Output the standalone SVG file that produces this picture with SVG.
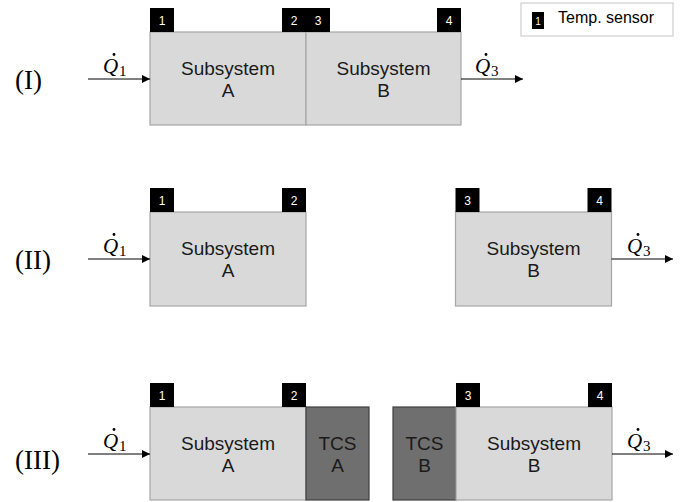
<svg xmlns="http://www.w3.org/2000/svg" width="684" height="502" viewBox="0 0 684 502">
  <defs>
    <marker id="arrow" viewBox="0 0 10 10" refX="10" refY="5" markerWidth="8" markerHeight="8" markerUnits="userSpaceOnUse" orient="auto">
      <path d="M0,0 L10,5 L0,10 Z" fill="#000"/>
    </marker>
    <style>
      .sub { fill: #d9d9d9; stroke: #a6a6a6; stroke-width: 1.2; }
      .tcs { fill: #6f6f6f; stroke: #3f3f3f; stroke-width: 1.2; }
      .sensor { fill: #000; }
      .snum { font-family: "Liberation Sans", Arial, sans-serif; font-size: 12px; fill: #fff; text-anchor: middle; }
      .lbl { font-family: "Liberation Sans", Arial, sans-serif; font-size: 19px; fill: #1a1a1a; text-anchor: middle; }
      .roman { font-family: "Liberation Serif", "Times New Roman", serif; font-size: 27px; fill: #000; }
      .q { font-family: "Liberation Serif", "Times New Roman", serif; font-size: 21px; font-style: italic; fill: #000; }
      .qdot { fill: #000; }
      .qsub { font-family: "Liberation Serif", "Times New Roman", serif; font-size: 15px; fill: #000; }
      .flow { stroke: #000; stroke-width: 1; fill: none; marker-end: url(#arrow); }
      .legend { fill: #fff; stroke: #cfcfcf; stroke-width: 1.2; }
      .ltxt { font-family: "Liberation Sans", Arial, sans-serif; font-size: 16px; fill: #000; }
    </style>
  </defs>
  <rect width="684" height="502" fill="#fff"/>

  <!-- Legend -->
  <g id="legend">
    <rect class="legend" x="521" y="3" width="152" height="33"/>
    <rect class="sensor" x="532" y="12" width="12" height="17"/>
    <text class="snum" x="538" y="25" style="font-size:10px">1</text>
    <text class="ltxt" x="558" y="23">Temp. sensor</text>
  </g>

  <!-- Row labels -->
  <g id="row-labels">
    <text class="roman" x="15" y="89">(I)</text>
    <text class="roman" x="15" y="269">(II)</text>
    <text class="roman" x="15" y="469">(III)</text>
  </g>

  <!-- Configuration I: coupled subsystems -->
  <g id="I-subsystem-A">
    <rect class="sub" x="150" y="32" width="156" height="93"/>
    <text class="lbl" x="228" y="74.5">Subsystem</text>
    <text class="lbl" x="228" y="96.5">A</text>
  </g>
  <g id="I-subsystem-B">
    <rect class="sub" x="306" y="32" width="155" height="93"/>
    <text class="lbl" x="383.5" y="74.5">Subsystem</text>
    <text class="lbl" x="383.5" y="96.5">B</text>
  </g>
  <g id="I-sensor-1"><rect class="sensor" x="150" y="8" width="24" height="24"/><text class="snum" x="162" y="25">1</text></g>
  <g id="I-sensor-2"><rect class="sensor" x="282" y="8" width="24" height="24"/><text class="snum" x="294" y="25">2</text></g>
  <g id="I-sensor-3"><rect class="sensor" x="306" y="8" width="24" height="24"/><text class="snum" x="318" y="25">3</text></g>
  <g id="I-sensor-4"><rect class="sensor" x="437" y="8" width="24" height="24"/><text class="snum" x="449" y="25">4</text></g>

  <!-- Configuration II: separated subsystems -->
  <g id="II-subsystem-A">
    <rect class="sub" x="150" y="212" width="156" height="94"/>
    <text class="lbl" x="228" y="255">Subsystem</text>
    <text class="lbl" x="228" y="277">A</text>
  </g>
  <g id="II-subsystem-B">
    <rect class="sub" x="455.5" y="212" width="156" height="94"/>
    <text class="lbl" x="533.5" y="255">Subsystem</text>
    <text class="lbl" x="533.5" y="277">B</text>
  </g>
  <g id="II-sensor-1"><rect class="sensor" x="150" y="188" width="24" height="24"/><text class="snum" x="162" y="205">1</text></g>
  <g id="II-sensor-2"><rect class="sensor" x="282" y="188" width="24" height="24"/><text class="snum" x="294" y="205">2</text></g>
  <g id="II-sensor-3"><rect class="sensor" x="455.5" y="188" width="24" height="24"/><text class="snum" x="467.5" y="205">3</text></g>
  <g id="II-sensor-4"><rect class="sensor" x="587.5" y="188" width="24" height="24"/><text class="snum" x="599.5" y="205">4</text></g>

  <!-- Configuration III: separated subsystems with TCS -->
  <g id="III-subsystem-A">
    <rect class="sub" x="150" y="407" width="156" height="93"/>
    <text class="lbl" x="228" y="449.5">Subsystem</text>
    <text class="lbl" x="228" y="471.5">A</text>
  </g>
  <g id="III-tcs-A">
    <rect class="tcs" x="306" y="407" width="63" height="93"/>
    <text class="lbl" x="337.5" y="449.5">TCS</text>
    <text class="lbl" x="337.5" y="471.5">A</text>
  </g>
  <g id="III-tcs-B">
    <rect class="tcs" x="393" y="407" width="63" height="93"/>
    <text class="lbl" x="424.5" y="449.5">TCS</text>
    <text class="lbl" x="424.5" y="471.5">B</text>
  </g>
  <g id="III-subsystem-B">
    <rect class="sub" x="456" y="407" width="156" height="93"/>
    <text class="lbl" x="534" y="449.5">Subsystem</text>
    <text class="lbl" x="534" y="471.5">B</text>
  </g>
  <g id="III-sensor-1"><rect class="sensor" x="150" y="383" width="24" height="24"/><text class="snum" x="162" y="400">1</text></g>
  <g id="III-sensor-2"><rect class="sensor" x="282" y="383" width="24" height="24"/><text class="snum" x="294" y="400">2</text></g>
  <g id="III-sensor-3"><rect class="sensor" x="456" y="383" width="24" height="24"/><text class="snum" x="468" y="400">3</text></g>
  <g id="III-sensor-4"><rect class="sensor" x="588" y="383" width="24" height="24"/><text class="snum" x="600" y="400">4</text></g>

  <!-- Heat flows -->
  <g id="connectors">
    <line class="flow" x1="88" y1="79" x2="150" y2="79"/>
    <line class="flow" x1="461" y1="79" x2="523" y2="79"/>
    <line class="flow" x1="88" y1="259" x2="150" y2="259"/>
    <line class="flow" x1="611.5" y1="259" x2="673" y2="259"/>
    <line class="flow" x1="88" y1="454" x2="150" y2="454"/>
    <line class="flow" x1="612" y1="454" x2="673" y2="454"/>
  </g>

  <!-- Heat flow labels: italic Q with a time-derivative dot and a subscript -->
  <g id="flow-labels">
    <text class="q" x="103" y="73">Q</text><circle class="qdot" cx="114" cy="54.5" r="1.4"/><text class="qsub" x="119" y="76">1</text>
    <text class="q" x="475" y="73">Q</text><circle class="qdot" cx="486" cy="54.5" r="1.4"/><text class="qsub" x="491" y="76">3</text>
    <text class="q" x="103" y="253">Q</text><circle class="qdot" cx="114" cy="234.5" r="1.4"/><text class="qsub" x="119" y="256">1</text>
    <text class="q" x="627" y="253">Q</text><circle class="qdot" cx="638" cy="234.5" r="1.4"/><text class="qsub" x="643" y="256">3</text>
    <text class="q" x="103" y="448">Q</text><circle class="qdot" cx="114" cy="429.5" r="1.4"/><text class="qsub" x="119" y="451">1</text>
    <text class="q" x="627" y="448">Q</text><circle class="qdot" cx="638" cy="429.5" r="1.4"/><text class="qsub" x="643" y="451">3</text>
  </g>
</svg>
